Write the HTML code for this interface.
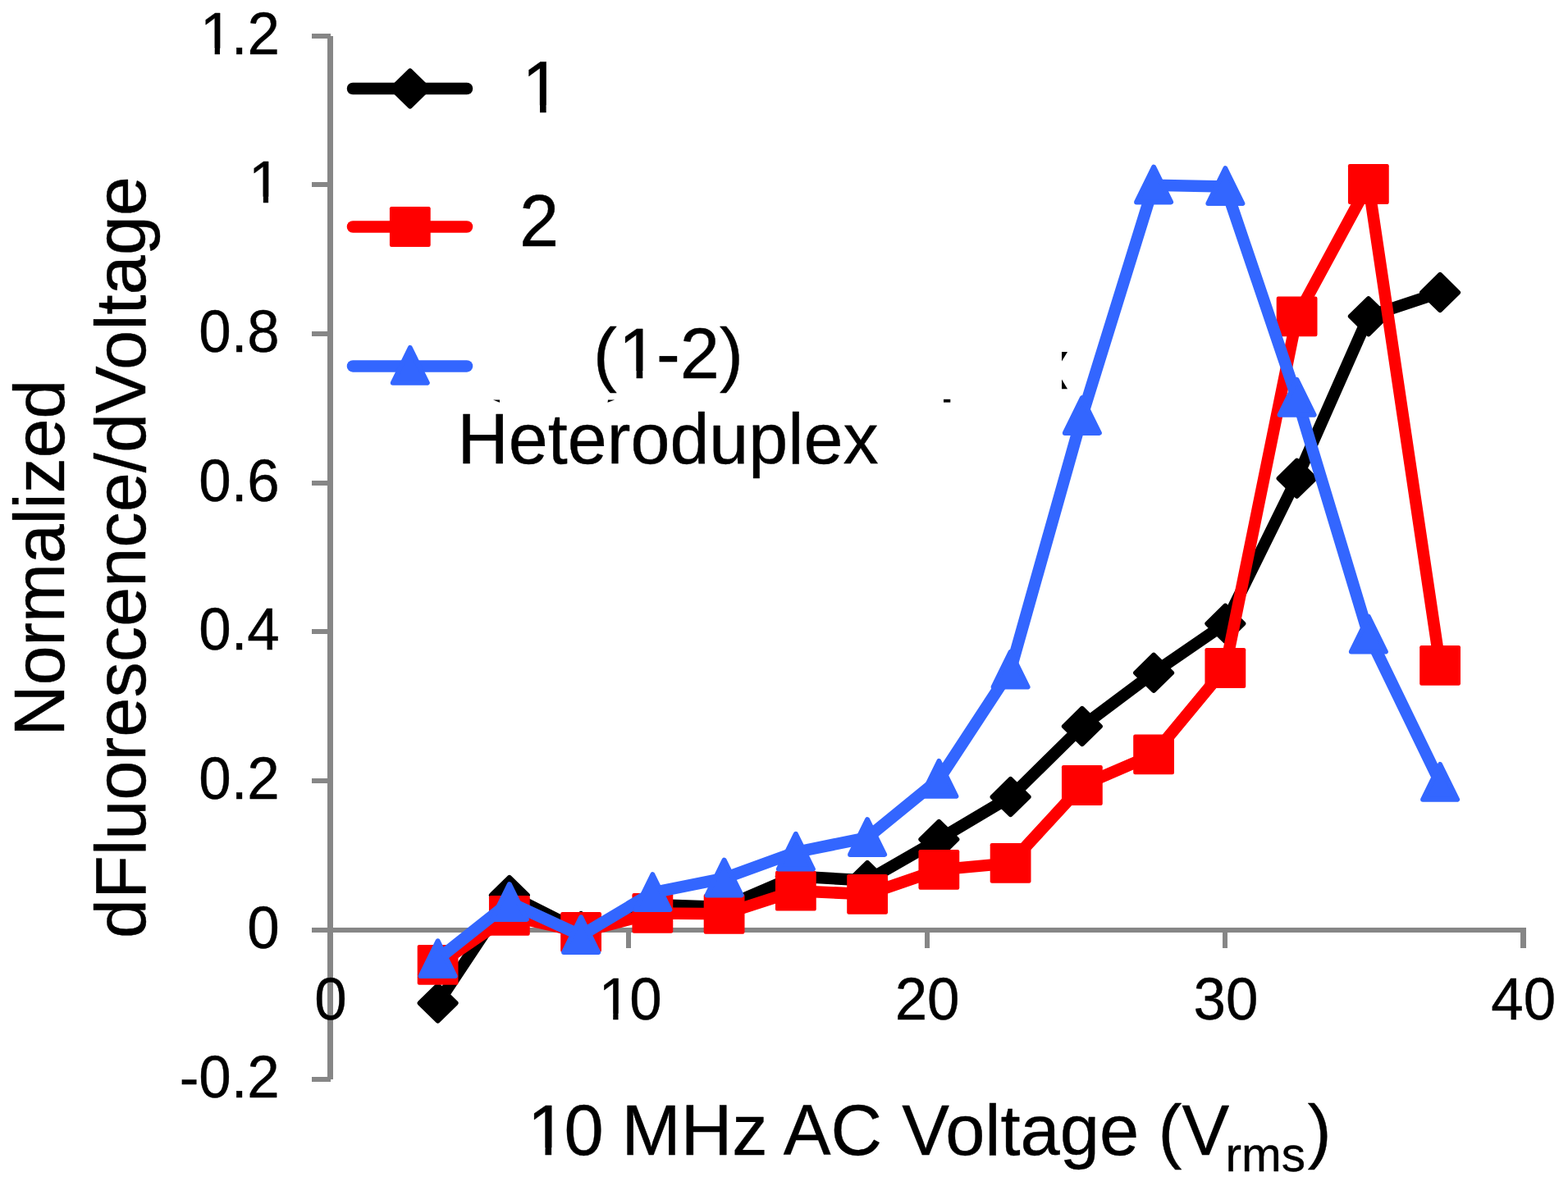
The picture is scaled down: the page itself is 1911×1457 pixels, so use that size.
<!DOCTYPE html>
<html lang="en"><head><meta charset="utf-8"><title>Normalized dFluorescence/dVoltage vs 10 MHz AC Voltage</title>
<style>
html,body{margin:0;padding:0;background:#fff;}
body{width:1911px;height:1457px;overflow:hidden;}
svg{display:block;}
text{font-family:"Liberation Sans",sans-serif;fill:#000;stroke:#000;stroke-width:0.4px;stroke-linejoin:round;}
.big{font-size:86.6px;}
.tick{font-size:70.9px;}
.sub{font-size:58.5px;}
</style></head><body>
<svg width="1911" height="1457" viewBox="0 0 1911 1457" role="img" aria-label="Line chart of normalized dFluorescence/dVoltage versus 10 MHz AC voltage">
<defs><clipPath id="nofoot" clipPathUnits="userSpaceOnUse"><path clip-rule="evenodd" d="M0 0H1911V1457H0ZM248.08 58.8h13.63v8.8h-13.63ZM267.97 58.8h13.07v8.8h-13.07ZM307.21 239.8h13.63v8.8h-13.63ZM327.1 239.8h13.07v8.8h-13.07ZM733.61 1235.8h13.63v8.8h-13.63ZM753.5 1235.8h13.07v8.8h-13.07ZM648.1 1399.33h16.38v9.87h-16.38ZM672.13 1399.33h15.7v9.87h-15.7ZM641.6 128.2h16.38v10h-16.38ZM665.63 128.2h15.7v10h-15.7ZM759.23 452.33h16.38v9.87h-16.38ZM783.27 452.33h15.7v9.87h-15.7Z"/></clipPath></defs>
<rect x="0" y="0" width="1911" height="1457" fill="#ffffff"/>
<g fill="#868686" shape-rendering="crispEdges">
<rect x="399" y="44" width="7" height="1272"/>
<rect x="380" y="41" width="22.5" height="6"/>
<rect x="380" y="222" width="22.5" height="6"/>
<rect x="380" y="404" width="22.5" height="6"/>
<rect x="380" y="586" width="22.5" height="6"/>
<rect x="380" y="767" width="22.5" height="6"/>
<rect x="380" y="949" width="22.5" height="6"/>
<rect x="380" y="1131" width="22.5" height="6"/>
<rect x="380" y="1312.5" width="22.5" height="6"/>
<rect x="380" y="1131" width="1477" height="6"/>
<rect x="763.2" y="1131" width="6" height="25"/>
<rect x="1126.9" y="1131" width="6" height="25"/>
<rect x="1490" y="1131" width="6" height="25"/>
<rect x="1853.1" y="1131" width="6.8" height="25"/>
</g>
<g clip-path="url(#nofoot)">
<text class="tick" transform="translate(242.24 66.4) scale(1 1.02)"><tspan dx="1.64">1</tspan><tspan dx="-1.64">.</tspan>2</text>
<text class="tick" transform="translate(301.37 247.4) scale(1 1.02)"><tspan dx="1.64">1</tspan></text>
<text class="tick" transform="translate(242.24 429.4) scale(1 1.02)">0.8</text>
<text class="tick" transform="translate(242.24 611.4) scale(1 1.02)">0.6</text>
<text class="tick" transform="translate(242.24 792.4) scale(1 1.02)">0.4</text>
<text class="tick" transform="translate(242.24 974.4) scale(1 1.02)">0.2</text>
<text class="tick" transform="translate(301.37 1156.4) scale(1 1.02)">0</text>
<text class="tick" transform="translate(218.63 1337.9) scale(1 1.02)">-0.2</text>
<text class="tick" transform="translate(383.28 1243.4) scale(1 1.02)">0</text>
<text class="tick" transform="translate(727.77 1243.4) scale(1 1.02)"><tspan dx="1.64">1</tspan><tspan dx="-1.64">0</tspan></text>
<text class="tick" transform="translate(1090.67 1243.4) scale(1 1.02)">20</text>
<text class="tick" transform="translate(1454.57 1243.4) scale(1 1.02)">30</text>
<text class="tick" transform="translate(1817.37 1243.4) scale(1 1.02)">40</text>
<text class="big" y="1408" xml:space="preserve"><tspan x="642.7">1</tspan><tspan x="687.4">0</tspan><tspan x="733.5"> MHz AC Voltage </tspan><tspan x="1411.6">(V</tspan><tspan class="sub" x="1493.6" dy="20.4">rms</tspan><tspan x="1593.8" dy="-20.4">)</tspan></text>
<text class="big" text-anchor="middle" transform="translate(78 680.3) rotate(-90)" style="letter-spacing:-0.3px">Normalized</text>
<text class="big" text-anchor="middle" transform="translate(176.8 679.6) rotate(-90)">dFluorescence/dVoltage</text>
<text class="big" transform="translate(634.2 137) scale(1 1.02)"><tspan dx="2">1</tspan></text>
<text class="big" transform="translate(633 299.5) scale(1 1.02)">2</text>
<text class="big" x="723" y="461">(<tspan dx="2">1</tspan><tspan dx="-2">-</tspan>2)</text>
<text class="big" x="557.5" y="564.8" style="font-size:86.25px">Heteroduplex</text>
</g>
<g>
<line x1="430" y1="108" x2="569" y2="108" stroke="#000000" stroke-width="14.5" stroke-linecap="round"/>
<polygon points="499.8,86.4 521.8,108 499.8,129.6 477.8,108" fill="#000000" stroke="#000000" stroke-width="6" stroke-linejoin="round"/>
<line x1="430" y1="276.5" x2="569" y2="276.5" stroke="#FF0000" stroke-width="14.5" stroke-linecap="round"/>
<rect x="474.9" y="252.1" width="49.8" height="48.8" rx="2.2" ry="2.2" fill="#FF0000"/>
<line x1="430" y1="446.4" x2="569" y2="446.4" stroke="#3366FF" stroke-width="14.5" stroke-linecap="round"/>
<polygon points="499.8,424 520.8,466.8 478.8,466.8" fill="#3366FF" stroke="#3366FF" stroke-width="6" stroke-linejoin="round"/>
</g>
<g fill="#000">
<polygon points="1294,429 1301,429 1294,440.5"/>
<polygon points="1294,462.5 1301,474.2 1294,474.2"/>
<rect x="1150" y="486.8" width="8.3" height="3.8"/>
<polygon points="601,487.4 609,490.7 609,487.4"/>
<polygon points="740.5,490.7 749.2,487.4 741,487.4"/>
</g>
<g>
<polyline points="533.6,1223 620.85,1091.5 708.1,1135.5 795.35,1103 882.6,1106 969.85,1068.5 1057.1,1073.5 1144.35,1023.4 1231.6,971.6 1318.85,885.6 1406.1,820.3 1493.35,760.3 1580.6,583.3 1667.85,385.7 1755.1,356.6" fill="none" stroke="#000000" stroke-width="14.5" stroke-linejoin="round" stroke-linecap="round"/>
<polygon points="533.6,1201.4 555.6,1223 533.6,1244.6 511.6,1223" fill="#000000" stroke="#000000" stroke-width="6" stroke-linejoin="round"/>
<polygon points="620.85,1069.9 642.85,1091.5 620.85,1113.1 598.85,1091.5" fill="#000000" stroke="#000000" stroke-width="6" stroke-linejoin="round"/>
<polygon points="708.1,1113.9 730.1,1135.5 708.1,1157.1 686.1,1135.5" fill="#000000" stroke="#000000" stroke-width="6" stroke-linejoin="round"/>
<polygon points="795.35,1081.4 817.35,1103 795.35,1124.6 773.35,1103" fill="#000000" stroke="#000000" stroke-width="6" stroke-linejoin="round"/>
<polygon points="882.6,1084.4 904.6,1106 882.6,1127.6 860.6,1106" fill="#000000" stroke="#000000" stroke-width="6" stroke-linejoin="round"/>
<polygon points="969.85,1046.9 991.85,1068.5 969.85,1090.1 947.85,1068.5" fill="#000000" stroke="#000000" stroke-width="6" stroke-linejoin="round"/>
<polygon points="1057.1,1051.9 1079.1,1073.5 1057.1,1095.1 1035.1,1073.5" fill="#000000" stroke="#000000" stroke-width="6" stroke-linejoin="round"/>
<polygon points="1144.35,1001.8 1166.35,1023.4 1144.35,1045 1122.35,1023.4" fill="#000000" stroke="#000000" stroke-width="6" stroke-linejoin="round"/>
<polygon points="1231.6,950 1253.6,971.6 1231.6,993.2 1209.6,971.6" fill="#000000" stroke="#000000" stroke-width="6" stroke-linejoin="round"/>
<polygon points="1318.85,864 1340.85,885.6 1318.85,907.2 1296.85,885.6" fill="#000000" stroke="#000000" stroke-width="6" stroke-linejoin="round"/>
<polygon points="1406.1,798.7 1428.1,820.3 1406.1,841.9 1384.1,820.3" fill="#000000" stroke="#000000" stroke-width="6" stroke-linejoin="round"/>
<polygon points="1493.35,738.7 1515.35,760.3 1493.35,781.9 1471.35,760.3" fill="#000000" stroke="#000000" stroke-width="6" stroke-linejoin="round"/>
<polygon points="1580.6,561.7 1602.6,583.3 1580.6,604.9 1558.6,583.3" fill="#000000" stroke="#000000" stroke-width="6" stroke-linejoin="round"/>
<polygon points="1667.85,364.1 1689.85,385.7 1667.85,407.3 1645.85,385.7" fill="#000000" stroke="#000000" stroke-width="6" stroke-linejoin="round"/>
<polygon points="1755.1,335 1777.1,356.6 1755.1,378.2 1733.1,356.6" fill="#000000" stroke="#000000" stroke-width="6" stroke-linejoin="round"/>
</g>
<g>
<polyline points="533.6,1176.3 620.85,1116.4 708.1,1136.5 795.35,1113.4 882.6,1114.3 969.85,1086.2 1057.1,1090.3 1144.35,1060.4 1231.6,1052.4 1318.85,957.5 1406.1,919.9 1493.35,814.5 1580.6,385.9 1667.85,224.5 1755.1,811.4" fill="none" stroke="#FF0000" stroke-width="14.5" stroke-linejoin="round" stroke-linecap="round"/>
<rect x="508.7" y="1151.9" width="49.8" height="48.8" rx="2.2" ry="2.2" fill="#FF0000"/>
<rect x="595.95" y="1092" width="49.8" height="48.8" rx="2.2" ry="2.2" fill="#FF0000"/>
<rect x="683.2" y="1112.1" width="49.8" height="48.8" rx="2.2" ry="2.2" fill="#FF0000"/>
<rect x="770.45" y="1089" width="49.8" height="48.8" rx="2.2" ry="2.2" fill="#FF0000"/>
<rect x="857.7" y="1089.9" width="49.8" height="48.8" rx="2.2" ry="2.2" fill="#FF0000"/>
<rect x="944.95" y="1061.8" width="49.8" height="48.8" rx="2.2" ry="2.2" fill="#FF0000"/>
<rect x="1032.2" y="1065.9" width="49.8" height="48.8" rx="2.2" ry="2.2" fill="#FF0000"/>
<rect x="1119.45" y="1036" width="49.8" height="48.8" rx="2.2" ry="2.2" fill="#FF0000"/>
<rect x="1206.7" y="1028" width="49.8" height="48.8" rx="2.2" ry="2.2" fill="#FF0000"/>
<rect x="1293.95" y="933.1" width="49.8" height="48.8" rx="2.2" ry="2.2" fill="#FF0000"/>
<rect x="1381.2" y="895.5" width="49.8" height="48.8" rx="2.2" ry="2.2" fill="#FF0000"/>
<rect x="1468.45" y="790.1" width="49.8" height="48.8" rx="2.2" ry="2.2" fill="#FF0000"/>
<rect x="1555.7" y="361.5" width="49.8" height="48.8" rx="2.2" ry="2.2" fill="#FF0000"/>
<rect x="1642.95" y="200.1" width="49.8" height="48.8" rx="2.2" ry="2.2" fill="#FF0000"/>
<rect x="1730.2" y="787" width="49.8" height="48.8" rx="2.2" ry="2.2" fill="#FF0000"/>
</g>
<g>
<polyline points="533.6,1169.5 620.85,1100.3 708.1,1140.5 795.35,1088.4 882.6,1070.8 969.85,1039 1057.1,1021.3 1144.35,950.2 1231.6,817 1318.85,507.3 1406.1,225.8 1493.35,227.4 1580.6,485.2 1667.85,774 1755.1,954.2" fill="none" stroke="#3366FF" stroke-width="14.5" stroke-linejoin="round" stroke-linecap="round"/>
<polygon points="533.6,1147.3 554.6,1190.1 512.6,1190.1" fill="#3366FF" stroke="#3366FF" stroke-width="6" stroke-linejoin="round"/>
<polygon points="620.85,1078.1 641.85,1120.9 599.85,1120.9" fill="#3366FF" stroke="#3366FF" stroke-width="6" stroke-linejoin="round"/>
<polygon points="708.1,1118.3 729.1,1161.1 687.1,1161.1" fill="#3366FF" stroke="#3366FF" stroke-width="6" stroke-linejoin="round"/>
<polygon points="795.35,1066.2 816.35,1109 774.35,1109" fill="#3366FF" stroke="#3366FF" stroke-width="6" stroke-linejoin="round"/>
<polygon points="882.6,1048.6 903.6,1091.4 861.6,1091.4" fill="#3366FF" stroke="#3366FF" stroke-width="6" stroke-linejoin="round"/>
<polygon points="969.85,1016.8 990.85,1059.6 948.85,1059.6" fill="#3366FF" stroke="#3366FF" stroke-width="6" stroke-linejoin="round"/>
<polygon points="1057.1,999.1 1078.1,1041.9 1036.1,1041.9" fill="#3366FF" stroke="#3366FF" stroke-width="6" stroke-linejoin="round"/>
<polygon points="1144.35,928 1165.35,970.8 1123.35,970.8" fill="#3366FF" stroke="#3366FF" stroke-width="6" stroke-linejoin="round"/>
<polygon points="1231.6,794.8 1252.6,837.6 1210.6,837.6" fill="#3366FF" stroke="#3366FF" stroke-width="6" stroke-linejoin="round"/>
<polygon points="1318.85,485.1 1339.85,527.9 1297.85,527.9" fill="#3366FF" stroke="#3366FF" stroke-width="6" stroke-linejoin="round"/>
<polygon points="1406.1,203.6 1427.1,246.4 1385.1,246.4" fill="#3366FF" stroke="#3366FF" stroke-width="6" stroke-linejoin="round"/>
<polygon points="1493.35,205.2 1514.35,248 1472.35,248" fill="#3366FF" stroke="#3366FF" stroke-width="6" stroke-linejoin="round"/>
<polygon points="1580.6,463 1601.6,505.8 1559.6,505.8" fill="#3366FF" stroke="#3366FF" stroke-width="6" stroke-linejoin="round"/>
<polygon points="1667.85,751.8 1688.85,794.6 1646.85,794.6" fill="#3366FF" stroke="#3366FF" stroke-width="6" stroke-linejoin="round"/>
<polygon points="1755.1,932 1776.1,974.8 1734.1,974.8" fill="#3366FF" stroke="#3366FF" stroke-width="6" stroke-linejoin="round"/>
</g>
</svg>
</body></html>
